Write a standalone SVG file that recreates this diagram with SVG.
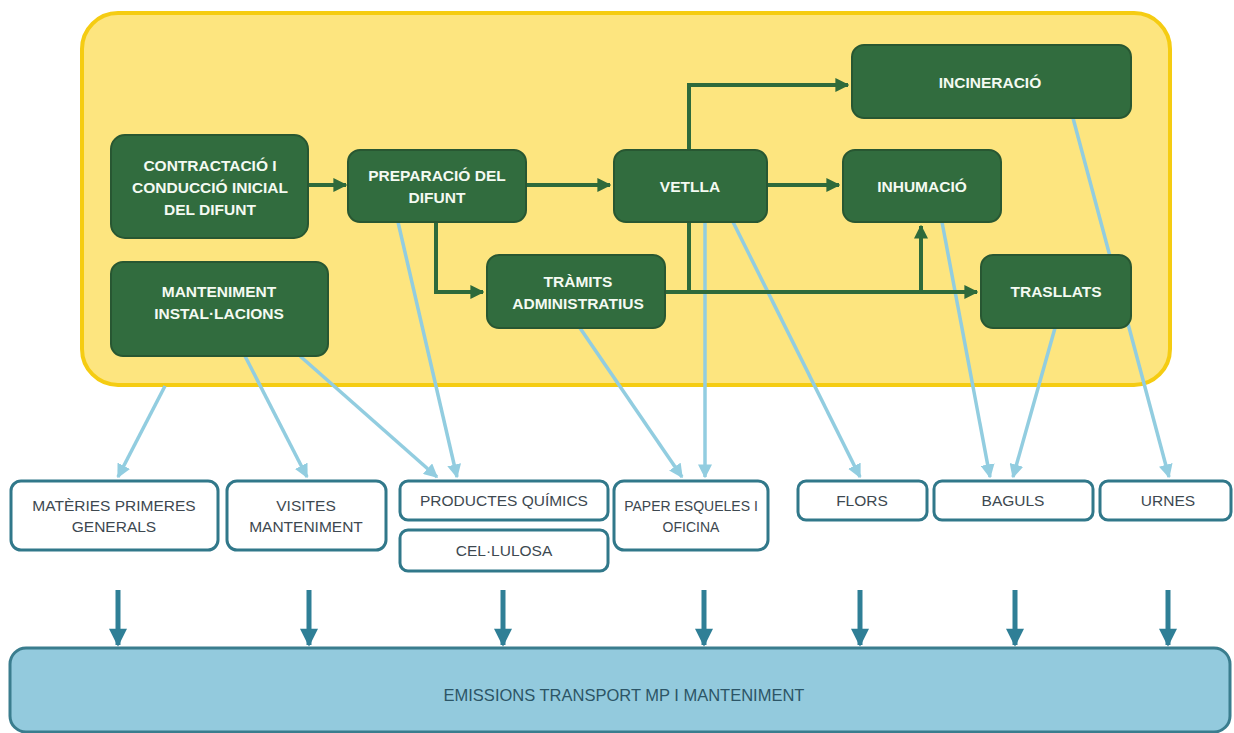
<svg xmlns="http://www.w3.org/2000/svg" width="1234" height="733" viewBox="0 0 1234 733">
<defs>
<style>
.g rect{fill:#316C3E;stroke:#285732;stroke-width:2}
.g text{fill:#F4FAF2;font-family:"Liberation Sans",Arial,sans-serif;font-weight:bold;font-size:15.5px;text-anchor:middle}
.w rect{fill:#fff;stroke:#31788A;stroke-width:3}
.w text{fill:#3D4850;font-family:"Liberation Sans",Arial,sans-serif;font-size:15.5px;text-anchor:middle}
.dg{fill:none;stroke:#2E6A3B;stroke-width:4}
.lb{fill:none;stroke:#92CDE0;stroke-width:3.5}
.tl{fill:none;stroke:#2F7F96;stroke-width:5}
</style>
<marker id="ag" viewBox="0 0 10 10" refX="9" refY="5" markerWidth="3.5" markerHeight="3.5" orient="auto" markerUnits="strokeWidth"><path d="M0,0 L10,5 L0,10 Z" fill="#2E6A3B"/></marker>
<marker id="ab" viewBox="0 0 10 10" refX="9" refY="5" markerWidth="4" markerHeight="4" orient="auto" markerUnits="strokeWidth"><path d="M0,0 L10,5 L0,10 Z" fill="#92CDE0"/></marker>
<marker id="at" viewBox="0 0 10 10" refX="9" refY="5" markerWidth="4" markerHeight="3.6" orient="auto" markerUnits="strokeWidth"><path d="M0,0 L10,5 L0,10 Z" fill="#2F7F96"/></marker>
</defs>
<rect width="1234" height="733" fill="#fff"/>
<g id="container">
<rect x="82" y="13" width="1088" height="372" rx="36" fill="#FDE57F" stroke="#F5CC12" stroke-width="4"/>
</g>
<g id="connectors-blue">
<path class="lb" d="M165,386 L118,477" marker-end="url(#ab)"/>
<path class="lb" d="M245,356 L307,477" marker-end="url(#ab)"/>
<path class="lb" d="M300,356 L437,477" marker-end="url(#ab)"/>
<path class="lb" d="M398,222 L457,477" marker-end="url(#ab)"/>
<path class="lb" d="M580,328 L682,477" marker-end="url(#ab)"/>
<path class="lb" d="M705,222 L705,477" marker-end="url(#ab)"/>
<path class="lb" d="M733,222 L860,477" marker-end="url(#ab)"/>
<path class="lb" d="M942,222 L990,477" marker-end="url(#ab)"/>
<path class="lb" d="M1055,328 L1013,477" marker-end="url(#ab)"/>
<path class="lb" d="M1073,118 L1169,477" marker-end="url(#ab)"/>
</g>
<g id="n-incineracio" class="g"><rect x="852" y="45" width="279" height="73" rx="12"/><text x="990" y="88">INCINERACIÓ</text></g>
<g id="n-trasllats" class="g"><rect x="981" y="255" width="150" height="73" rx="12"/><text x="1056" y="297">TRASLLATS</text></g>
<g id="connectors-green">
<path class="dg" d="M308,185 L346,185" marker-end="url(#ag)"/>
<path class="dg" d="M526,185 L610,185" marker-end="url(#ag)"/>
<path class="dg" d="M436,222 L436,292 L483,292" marker-end="url(#ag)"/>
<path class="dg" d="M689,150 L689,85 L848,85" marker-end="url(#ag)"/>
<path class="dg" d="M767,185 L839,185" marker-end="url(#ag)"/>
<path class="dg" d="M689,222 L689,292"/>
<path class="dg" d="M665,292 L977,292" marker-end="url(#ag)"/>
<path class="dg" d="M921,292 L921,226" marker-end="url(#ag)"/>
</g>
<g id="n-contractacio" class="g"><rect x="111" y="135" width="197" height="103" rx="14"/><text x="210" y="171">CONTRACTACIÓ I</text><text x="210" y="193">CONDUCCIÓ INICIAL</text><text x="210" y="215">DEL DIFUNT</text></g>
<g id="n-preparacio" class="g"><rect x="348" y="150" width="178" height="72" rx="12"/><text x="437" y="181">PREPARACIÓ DEL</text><text x="437" y="203">DIFUNT</text></g>
<g id="n-vetlla" class="g"><rect x="614" y="150" width="153" height="72" rx="12"/><text x="690" y="192">VETLLA</text></g>
<g id="n-inhumacio" class="g"><rect x="843" y="150" width="158" height="72" rx="12"/><text x="922" y="192">INHUMACIÓ</text></g>
<g id="n-manteniment" class="g"><rect x="111" y="262" width="217" height="94" rx="12"/><text x="219" y="297">MANTENIMENT</text><text x="219" y="319">INSTAL·LACIONS</text></g>
<g id="n-tramits" class="g"><rect x="487" y="255" width="178" height="73" rx="12"/><text x="578" y="287">TRÀMITS</text><text x="578" y="309">ADMINISTRATIUS</text></g>
<g id="b-materies" class="w"><rect x="11" y="481" width="207" height="69" rx="10"/><text x="114" y="511">MATÈRIES PRIMERES</text><text x="114" y="532">GENERALS</text></g>
<g id="b-visites" class="w"><rect x="227" y="481" width="159" height="69" rx="10"/><text x="306" y="511">VISITES</text><text x="306" y="532">MANTENIMENT</text></g>
<g id="b-productes" class="w"><rect x="400" y="481" width="208" height="39" rx="8"/><text x="504" y="506">PRODUCTES QUÍMICS</text></g>
<g id="b-cellulosa" class="w"><rect x="400" y="530" width="208" height="41" rx="8"/><text x="504" y="556">CEL·LULOSA</text></g>
<g id="b-paper" class="w"><rect x="614" y="481" width="154" height="69" rx="10"/><text x="691" y="511" style="font-size:14px">PAPER ESQUELES I</text><text x="691" y="532" style="font-size:14px">OFICINA</text></g>
<g id="b-flors" class="w"><rect x="798" y="481" width="129" height="39" rx="8"/><text x="862" y="506">FLORS</text></g>
<g id="b-baguls" class="w"><rect x="934" y="481" width="159" height="39" rx="8"/><text x="1013" y="506">BAGULS</text></g>
<g id="b-urnes" class="w"><rect x="1100" y="481" width="131" height="39" rx="8"/><text x="1168" y="506">URNES</text></g>
<g id="connectors-teal">
<path class="tl" d="M118,590 L118,645" marker-end="url(#at)"/>
<path class="tl" d="M309,590 L309,645" marker-end="url(#at)"/>
<path class="tl" d="M503,590 L503,645" marker-end="url(#at)"/>
<path class="tl" d="M704,590 L704,645" marker-end="url(#at)"/>
<path class="tl" d="M860,590 L860,645" marker-end="url(#at)"/>
<path class="tl" d="M1015,590 L1015,645" marker-end="url(#at)"/>
<path class="tl" d="M1168,590 L1168,645" marker-end="url(#at)"/>
</g>
<g id="n-emissions">
<rect x="10" y="648" width="1220" height="84" rx="16" fill="#93CADD" stroke="#3A7D8E" stroke-width="3"/>
<text x="624" y="701" fill="#2C5566" font-family="'Liberation Sans',Arial,sans-serif" font-size="16.5" text-anchor="middle">EMISSIONS TRANSPORT MP I MANTENIMENT</text>
</g>
</svg>
